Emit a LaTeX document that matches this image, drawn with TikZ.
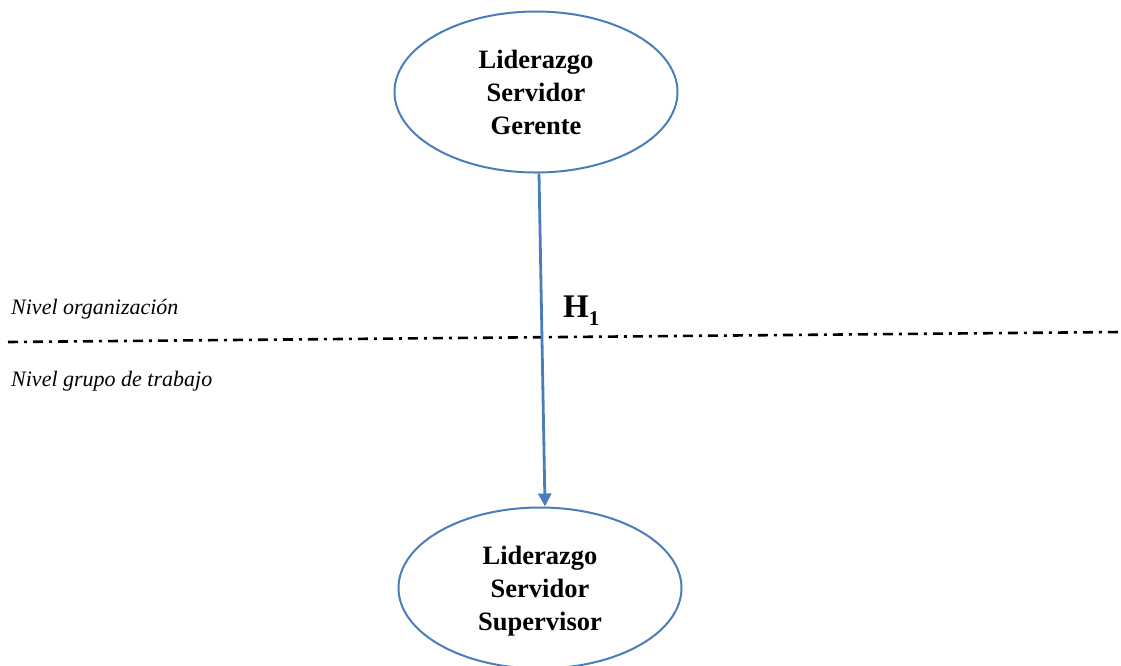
\documentclass[tikz,border=0pt]{standalone}
\usepackage{fontspec}
\setmainfont{Liberation Serif}
\usetikzlibrary{shapes.geometric,arrows.meta}
\definecolor{ovalblue}{RGB}{74,126,187}
\tikzset{
  oval/.style={ellipse, draw=ovalblue, line width=2pt, inner sep=0pt,
    minimum width=283pt, minimum height=161pt, align=center, text depth=0pt,
    font=\fontsize{26.5}{33}\selectfont\bfseries},
  link/.style={draw=ovalblue, line width=2.8pt,
    -{Triangle[width=13pt,length=13pt]}},
  levelline/.style={line width=2.6pt, dash pattern=on 10pt off 6pt on 3pt off 6pt},
  leveltext/.style={anchor=base west, inner sep=0pt,
    font=\fontsize{22}{26}\selectfont\itshape},
}
\begin{document}
\begin{tikzpicture}[x=1pt,y=-1pt]
  \useasboundingbox (0,0) rectangle (1121,665);

  % the two leadership levels
  \node[oval] (top) at (536,92) {Liderazgo\\Servidor\\Gerente};
  \node[oval] (bot) at (540,588) {Liderazgo\\Servidor\\Supervisor};

  % boundary between organisation and work-group level
  \coordinate (lineL) at (8,342);
  \coordinate (lineR) at (1121,332);
  \draw[levelline] (lineL) -- (lineR);

  \node[leveltext] (org) at (11,314) {Nivel organización};
  \node[leveltext] (grp) at (11,386) {Nivel grupo de trabajo};

  % hypothesis H1
  \draw[link] ([xshift=3pt]top.south) -- ([xshift=5pt]bot.north);
  \node[anchor=base west, inner sep=0pt, font=\fontsize{33}{33}\selectfont\bfseries]
    (h1) at (563,317) {H\raisebox{-8pt}{\fontsize{21}{21}\selectfont 1}};
\end{tikzpicture}
\end{document}
